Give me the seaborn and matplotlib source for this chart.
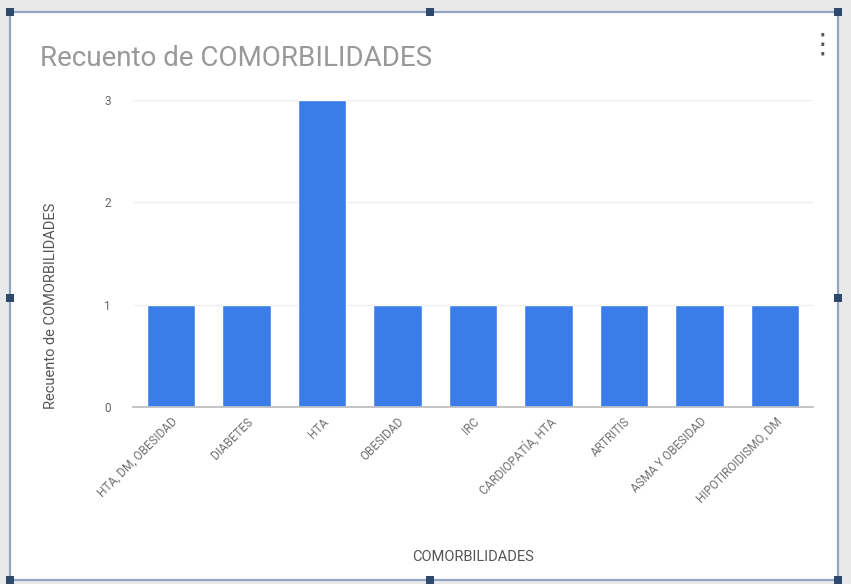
import matplotlib
matplotlib.use("Agg")
import matplotlib.pyplot as plt
import seaborn as sns
import pandas as pd
from matplotlib.patches import Rectangle

# Counts per comorbidity
categories = [
    "HTA, DM, OBESIDAD",
    "DIABETES",
    "HTA",
    "OBESIDAD",
    "IRC",
    "CARDIOPATÍA, HTA",
    "ARTRITIS",
    "ASMA Y OBESIDAD",
    "HIPOTIROIDISMO, DM",
]
counts = [1, 1, 3, 1, 1, 1, 1, 1, 1]
y_ticks = [0, 1, 2, 3]

sns.set_theme(style="white")
plt.rcParams["font.family"] = ["Roboto", "DejaVu Sans"]

df = pd.DataFrame({"COMORBILIDADES": categories, "Recuento": counts})

W, H = 851, 584
fig = plt.figure(figsize=(W / 100, H / 100), dpi=100)
fig.patch.set_facecolor("#e9e9e9")

# White card with selection frame, drawn beneath the axes
card = Rectangle((10 / W, 1 - 580 / H), 828 / W, 568 / H, transform=fig.transFigure,
                 facecolor="white", edgecolor="#8fa6c4", linewidth=1.6, zorder=-2)
fig.patches.append(card)
for hx, hy in [(10, 12), (430, 12), (838, 12), (10, 298), (838, 298), (10, 580), (430, 580), (838, 580)]:
    fig.patches.append(Rectangle(((hx - 4) / W, 1 - (hy + 4) / H), 8 / W, 8 / H,
                                 transform=fig.transFigure, facecolor="#2d4a6e",
                                 edgecolor="none", zorder=-1))

ax = fig.add_axes([133 / W, 1 - 407 / H, 680 / W, 307 / H])
ax.set_facecolor("white")
sns.barplot(data=df, x="COMORBILIDADES", y="Recuento", color="#3b7de8",
            saturation=1, width=0.64, ax=ax)
ax.set_ylim(0, 3)
ax.set_xlim(-0.5, len(categories) - 0.5)
ax.set_yticks(y_ticks)
ax.set_yticklabels([str(t) for t in y_ticks], fontsize=8.5, color="#666666")
ax.tick_params(axis="y", length=0, pad=16)
ax.tick_params(axis="x", length=0, pad=6)
ax.set_xticks(range(len(categories)))
ax.set_xticklabels(categories, rotation=45, ha="right", rotation_mode="anchor",
                   fontsize=8.5, color="#707070")
for t in y_ticks[1:]:
    ax.axhline(t, color="#eeeeee", linewidth=1, zorder=0)
for s in ["top", "right", "left"]:
    ax.spines[s].set_visible(False)
ax.spines["bottom"].set_color("#bdbdbd")
ax.set_axisbelow(True)

ax.set_xlabel("COMORBILIDADES", fontsize=10.5, color="#555555")
ax.xaxis.set_label_coords(0.5, -0.465)
ax.set_ylabel("Recuento de COMORBILIDADES", fontsize=10.5, color="#555555")
ax.yaxis.set_label_coords(-0.11, 0.33)

fig.text(40 / W, 1 - 58 / H, "Recuento de COMORBILIDADES", fontsize=20,
         color="#999999", va="center", ha="left")
fig.text(822 / W, 1 - 45 / H, "\u22ee", fontsize=20, color="#555555",
         va="center", ha="center", family=["DejaVu Sans"])

fig.savefig("out.png", dpi=100, facecolor=fig.get_facecolor())
